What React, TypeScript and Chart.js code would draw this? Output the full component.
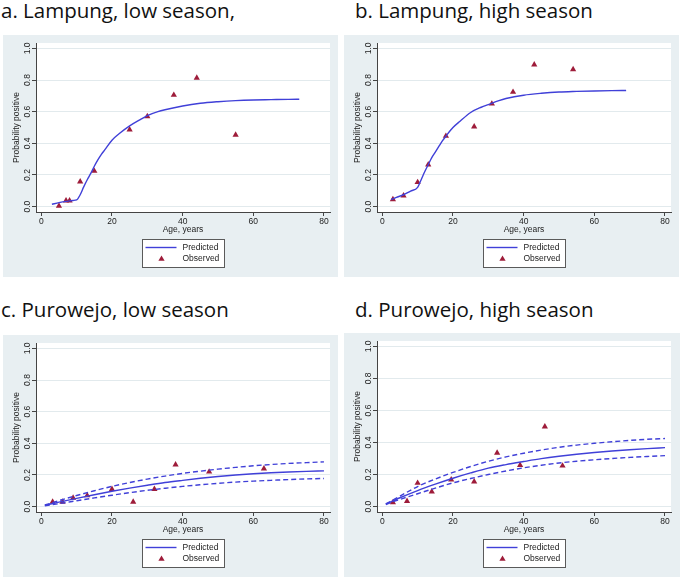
import React, { useEffect, useRef } from "react";
import { Chart, registerables } from "chart.js";

Chart.register(...registerables);

// ---------- axis ticks ----------
const xTicks = [0, 20, 40, 60, 80];
const yTicks = [0, 0.2, 0.4, 0.6, 0.8, 1.0];

// ---------- a. Lampung, low season ----------
const aObsAge = [5, 7, 8, 11, 15, 25, 30, 37.5, 44, 55];
const aObsProb = [0.005, 0.038, 0.038, 0.158, 0.225, 0.486, 0.57, 0.705, 0.813, 0.453];
const aPredAge = [3, 5, 7, 8, 9, 10, 11, 12, 13, 14, 15, 16, 17, 18, 20, 22, 25, 28, 30, 33, 35, 40, 45, 50, 55, 60, 65, 70, 73];
const aPredProb = [0.015, 0.025, 0.033, 0.036, 0.039, 0.042, 0.075, 0.125, 0.17, 0.21, 0.255, 0.295, 0.33, 0.36, 0.42, 0.46, 0.51, 0.55, 0.575, 0.6, 0.612, 0.636, 0.653, 0.663, 0.67, 0.674, 0.676, 0.678, 0.679];

// ---------- b. Lampung, high season ----------
const bObsAge = [3, 6, 10, 13, 18, 26, 31, 37, 43, 54];
const bObsProb = [0.046, 0.069, 0.154, 0.265, 0.446, 0.505, 0.65, 0.724, 0.897, 0.867];
const bPredAge = [2.5, 4, 6, 8, 10, 11, 12, 13, 14, 15, 16, 17, 18, 20, 22, 25, 28, 30, 33, 35, 40, 45, 50, 55, 60, 65, 69];
const bPredProb = [0.045, 0.058, 0.075, 0.098, 0.122, 0.17, 0.22, 0.265, 0.31, 0.345, 0.38, 0.415, 0.445, 0.5, 0.54, 0.595, 0.628, 0.645, 0.67, 0.683, 0.704, 0.716, 0.724, 0.728, 0.731, 0.733, 0.734];

// ---------- c. Purowejo, low season ----------
const cObsAge = [3.2, 6, 9, 13, 20, 26, 32, 38, 47.5, 63];
const cObsProb = [0.03, 0.03, 0.055, 0.07, 0.11, 0.03, 0.11, 0.265, 0.22, 0.24];
const cCurveAge = [1, 5, 10, 15, 20, 25, 30, 35, 40, 45, 50, 55, 60, 65, 70, 75, 80];
const cPredProb = [0.008, 0.028, 0.052, 0.075, 0.097, 0.117, 0.135, 0.152, 0.166, 0.179, 0.19, 0.2, 0.208, 0.214, 0.219, 0.223, 0.226];
const cUpperProb = [0.01, 0.038, 0.07, 0.1, 0.128, 0.152, 0.174, 0.193, 0.21, 0.224, 0.237, 0.248, 0.258, 0.266, 0.273, 0.278, 0.283];
const cLowerProb = [0.005, 0.019, 0.037, 0.055, 0.072, 0.088, 0.103, 0.116, 0.128, 0.138, 0.147, 0.155, 0.161, 0.166, 0.171, 0.175, 0.178];

// ---------- d. Purowejo, high season ----------
const dObsAge = [3, 7, 10, 14, 19.5, 26, 32.5, 39, 46, 51];
const dObsProb = [0.025, 0.034, 0.147, 0.093, 0.168, 0.156, 0.335, 0.259, 0.499, 0.255];
const dCurveAge = [1, 3, 5, 10, 15, 20, 25, 30, 35, 40, 45, 50, 55, 60, 65, 70, 75, 80];
const dPredProb = [0.015, 0.035, 0.055, 0.1, 0.14, 0.177, 0.21, 0.24, 0.262, 0.281, 0.299, 0.314, 0.327, 0.338, 0.347, 0.355, 0.362, 0.368];
const dUpperProb = [0.017, 0.04, 0.065, 0.125, 0.172, 0.213, 0.25, 0.283, 0.31, 0.333, 0.353, 0.37, 0.384, 0.395, 0.405, 0.413, 0.42, 0.425];
const dLowerProb = [0.013, 0.03, 0.045, 0.08, 0.115, 0.148, 0.175, 0.2, 0.222, 0.242, 0.258, 0.272, 0.283, 0.292, 0.3, 0.307, 0.313, 0.318];

// ---------- styles ----------
const FONT = "'Liberation Sans', Arial, sans-serif";
const FS = 8.5;
const BLUE = "#4040d8";
const MAROON = "#9e1c3a";
const BG = "#e8eff2";
const GRID = "#e2eaed";
const AXIS = "#444444";
const TXT = "#222222";

const pts = (xs: number[], ys: number[]) => xs.map((x, i) => ({ x, y: ys[i] }));

const backgroundPlugin = {
  id: "stataBackground",
  beforeDraw(chart: any) {
    const { ctx, chartArea, width, height } = chart;
    ctx.save();
    ctx.fillStyle = BG;
    ctx.fillRect(0, 0, width, height);
    ctx.fillStyle = "#ffffff";
    ctx.fillRect(chartArea.left, chartArea.top, chartArea.right - chartArea.left, chartArea.bottom - chartArea.top);
    ctx.restore();
  },
};

const legendPlugin = {
  id: "stataLegend",
  afterDraw(chart: any) {
    const { ctx, chartArea } = chart;
    const pred = chart.data.datasets.find((d: any) => d.label === "Predicted");
    const obs = chart.data.datasets.find((d: any) => d.label === "Observed");
    const w = 82;
    const h = 28;
    const left = Math.round((chartArea.left + chartArea.right) / 2 - w / 2) + 0.5;
    const top = Math.round(chartArea.bottom + 27) + 0.5;
    ctx.save();
    ctx.fillStyle = "#ffffff";
    ctx.fillRect(left, top, w, h);
    ctx.strokeStyle = "#5a5a5a";
    ctx.lineWidth = 1;
    ctx.strokeRect(left, top, w, h);
    // predicted line sample
    ctx.strokeStyle = pred.borderColor;
    ctx.lineWidth = pred.borderWidth;
    ctx.beginPath();
    ctx.moveTo(left + 3, top + 8);
    ctx.lineTo(left + 34, top + 8);
    ctx.stroke();
    // observed triangle sample
    const r = obs.pointRadius;
    const cx = left + 19;
    const cy = top + 19.5;
    ctx.fillStyle = obs.backgroundColor;
    ctx.beginPath();
    ctx.moveTo(cx, cy - r);
    ctx.lineTo(cx + r * Math.sin((2 * Math.PI) / 3), cy - r * Math.cos((2 * Math.PI) / 3));
    ctx.lineTo(cx + r * Math.sin((4 * Math.PI) / 3), cy - r * Math.cos((4 * Math.PI) / 3));
    ctx.closePath();
    ctx.fill();
    // texts
    ctx.fillStyle = TXT;
    ctx.font = `${FS}px ${FONT}`;
    ctx.textBaseline = "middle";
    ctx.textAlign = "left";
    ctx.fillText(pred.label, left + 40, top + 8.5);
    ctx.fillText(obs.label, left + 40, top + 19.5);
    ctx.restore();
  },
};

type PanelProps = {
  title: string;
  titleX: number;
  titleY: number;
  x: number;
  y: number;
  w: number;
  h: number;
  obsAge: number[];
  obsProb: number[];
  predAge: number[];
  predProb: number[];
  upperProb?: number[];
  lowerProb?: number[];
};

function Panel(p: PanelProps) {
  const ref = useRef<HTMLCanvasElement>(null);
  useEffect(() => {
    const datasets: any[] = [];
    if (p.upperProb && p.lowerProb) {
      for (const [label, vals] of [["Upper CI", p.upperProb], ["Lower CI", p.lowerProb]] as [string, number[]][]) {
        datasets.push({
          label,
          data: pts(p.predAge, vals),
          showLine: true,
          borderColor: BLUE,
          backgroundColor: BLUE,
          borderWidth: 1.4,
          borderDash: [5, 3],
          pointRadius: 0,
          cubicInterpolationMode: "monotone",
        });
      }
    }
    datasets.push({
      label: "Predicted",
      data: pts(p.predAge, p.predProb),
      showLine: true,
      borderColor: BLUE,
      backgroundColor: BLUE,
      borderWidth: 1.4,
      pointRadius: 0,
      cubicInterpolationMode: "monotone",
    });
    datasets.push({
      label: "Observed",
      data: pts(p.obsAge, p.obsProb),
      showLine: false,
      pointStyle: "triangle",
      pointRadius: 3.6,
      borderWidth: 0,
      backgroundColor: MAROON,
      borderColor: MAROON,
    });

    const font = { family: FONT, size: FS };
    const chart = new Chart(ref.current!, {
      type: "scatter",
      data: { datasets },
      options: {
        animation: false,
        responsive: false,
        devicePixelRatio: 1,
        layout: { padding: { left: 0, top: 8, right: p.w - 327, bottom: 38 } },
        plugins: { legend: { display: false }, tooltip: { enabled: false } },
        scales: {
          x: {
            type: "linear",
            min: -1.5,
            max: 81.7,
            afterBuildTicks: (s: any) => {
              s.ticks = xTicks.map((v) => ({ value: v }));
            },
            afterFit: (s: any) => {
              s.height = 27;
            },
            grid: { drawOnChartArea: false, drawTicks: true, tickLength: 4, tickColor: AXIS },
            border: { display: true, color: AXIS, width: 1 },
            ticks: {
              font,
              color: TXT,
              padding: 1,
              maxRotation: 0,
              autoSkip: false,
              callback: (v: any) => String(v),
            },
            title: { display: true, text: "Age, years", font, color: TXT, padding: { top: 0, bottom: 4 } },
          },
          y: {
            type: "linear",
            min: -0.034,
            max: 1.034,
            afterBuildTicks: (s: any) => {
              s.ticks = yTicks.map((v) => ({ value: v }));
            },
            afterFit: (s: any) => {
              s.width = 33;
            },
            grid: { color: GRID, drawTicks: true, tickLength: 4, tickColor: AXIS },
            border: { display: true, color: AXIS, width: 1 },
            ticks: {
              font,
              color: TXT,
              padding: -2,
              minRotation: 90,
              maxRotation: 90,
              crossAlign: "center",
              autoSkip: false,
              callback: (v: any) => Number(v).toFixed(1),
            },
            title: { display: true, text: "Probability positive", font, color: TXT, padding: { top: 9, bottom: 0 } },
          },
        },
      } as any,
      plugins: [backgroundPlugin, legendPlugin],
    });
    return () => chart.destroy();
  }, []);

  return (
    <>
      <div
        style={{
          position: "absolute",
          left: p.titleX,
          top: p.titleY,
          fontFamily: "'Open Sans', sans-serif",
          fontSize: 20.5,
          lineHeight: "24px",
          color: "#111",
          whiteSpace: "nowrap",
        }}
      >
        {p.title}
      </div>
      <canvas
        ref={ref}
        width={p.w}
        height={p.h}
        style={{ position: "absolute", left: p.x, top: p.y, width: p.w, height: p.h }}
      />
    </>
  );
}

export default function App() {
  return (
    <div style={{ position: "absolute", left: 0, top: 0, width: 685, height: 581, background: "#fff", overflow: "hidden" }}>
      <Panel title="a. Lampung, low season," titleX={1} titleY={-2} x={3} y={35} w={335} h={242}
        obsAge={aObsAge} obsProb={aObsProb} predAge={aPredAge} predProb={aPredProb} />
      <Panel title="b. Lampung, high season" titleX={355} titleY={-2} x={344} y={35} w={335} h={242}
        obsAge={bObsAge} obsProb={bObsProb} predAge={bPredAge} predProb={bPredProb} />
      <Panel title="c. Purowejo, low season" titleX={1} titleY={297} x={3} y={335} w={335} h={242}
        obsAge={cObsAge} obsProb={cObsProb} predAge={cCurveAge} predProb={cPredProb}
        upperProb={cUpperProb} lowerProb={cLowerProb} />
      <Panel title="d. Purowejo, high season" titleX={355} titleY={297} x={344} y={333} w={336} h={244}
        obsAge={dObsAge} obsProb={dObsProb} predAge={dCurveAge} predProb={dPredProb}
        upperProb={dUpperProb} lowerProb={dLowerProb} />
    </div>
  );
}
